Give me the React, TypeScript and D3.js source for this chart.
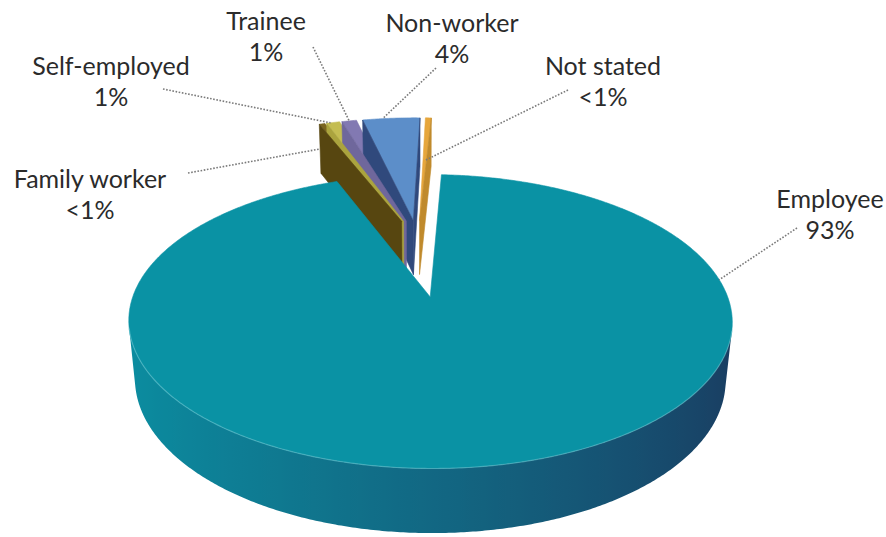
import React from 'react';
import * as d3 from 'd3';

// ---------- data ----------
const categories = ['Employee', 'Family worker', 'Self-employed', 'Trainee', 'Non-worker', 'Not stated'];
const values = [93.4, 0.4, 0.9, 1.0, 3.9, 0.4];
const valueLabels = ['93%', '<1%', '1%', '1%', '4%', '<1%'];

// ---------- styles ----------
const topColors = ['#0a92a4', '#7a6520', '#c4bd52', '#8279b2', '#5c8ec9', '#e6a63c'];
const sideLight = ['#0b8ea1', '#6a561a', '#a9a244', '#6f679c', '#4d7ab0', '#d29530'];
const sideDark = ['#1a3b60', '#4a3a0c', '#7d782e', '#4f4878', '#2f4a7c', '#a87420'];
const wallColors = ['#0b6f86', '#574610', '#aba43e', '#6f679c', '#30497c', '#c08a2c'];
const explode = [0.25, 0.34, 0.34, 0.34, 0.34, 0.34];
// explosion direction of the small slices: blend of a common direction and each bisector
const groupDirDeg = -1;
const spreadK = 0.5;

// label layout: centre x, baseline of first line, leader start
const labelX = [830, 90, 111, 266, 452, 603];
const labelY = [208, 188, 75, 30, 32, 75];
const leaderX = [797, 188, 163, 313, 436, 568];
const leaderY = [228, 173, 89, 47, 68, 90];
const anchorFrac = [0.238, 0, 0.3, 0.5, 0.35, 0.5];
const anchorR = [1, 1, 1, 1, 1, 0.55];
const anchorH = [0, -0.5, 0, 0, 0, 0];
const LINE_GAP = 30.5;

const W = 886, H = 537;
const deg = Math.PI / 180;
const START_DEG = 2.9;
const SIN_P = 0.475;
const COS_P = Math.sqrt(1 - SIN_P * SIN_P);
const CAM_D = 5.48;
const FOCAL = 1520;
const KX = 1.03;
const SX0 = 418.6;
const SY0 = 263.1;
const TH = 0.234;

type Pt = { x: number; y: number; w: number };
type Face = { pts: Pt[]; fill: string; stroke: string; depth: number; grad?: { id: string; x1: number; x2: number; stops: { o: number; c: string }[] } };

function proj(X: number, Y: number, Z: number): Pt {
  const yp = Y * COS_P - Z * SIN_P;
  const zp = Y * SIN_P + Z * COS_P;
  const w = CAM_D - zp;
  return { x: SX0 + (FOCAL * KX * X) / w, y: SY0 - (FOCAL * yp) / w, w };
}

function area(p: Pt[]) {
  let s = 0;
  for (let i = 0; i < p.length; i++) {
    const a = p[i], b = p[(i + 1) % p.length];
    s += a.x * b.y - b.x * a.y;
  }
  return s;
}

export default function App() {
  const arcs = d3
    .pie<number>()
    .sort(null)
    .value((d) => d)
    .startAngle(START_DEG * deg)
    .endAngle(START_DEG * deg + 2 * Math.PI)(values);

  const faces: Face[] = [];
  const rimLines: string[] = [];
  const anchors: { x: number; y: number }[] = [];
  const line = d3.line<Pt>().x((d) => d.x).y((d) => d.y);
  let gid = 0;

  arcs.forEach((a, i) => {
    const m = (a.startAngle + a.endAngle) / 2;
    const e = explode[i];
    let dir = m;
    if (i > 0) {
      let mm = m;
      if (mm > Math.PI) mm -= 2 * Math.PI;
      dir = groupDirDeg * deg + spreadK * (mm - groupDirDeg * deg);
    }
    const ox = e * Math.sin(dir), oz = -e * Math.cos(dir);
    const P = (t: number, r: number, y: number) => proj(ox + r * Math.sin(t), y, oz - r * Math.cos(t));
    const span = a.endAngle - a.startAngle;
    const n = Math.max(2, Math.ceil(span / (0.5 * deg)));
    const ts = d3.range(n + 1).map((k) => a.startAngle + (span * k) / n);

    const top = [P(0, 0, 0), ...ts.map((t) => P(t, 1, 0))];
    faces.push({ pts: top, fill: topColors[i], stroke: topColors[i], depth: d3.mean(top, (p) => p.w)! });

    // visible runs of the curved side
    const runs: number[][] = [];
    let cur: number[] = [];
    for (let k = 0; k < n; k++) {
      const ta = ts[k], tb = ts[k + 1];
      const q = [P(tb, 1, 0), P(ta, 1, 0), P(ta, 1, -TH), P(tb, 1, -TH)];
      if (area(q) > 0) {
        if (cur.length === 0) cur.push(ta);
        cur.push(tb);
      } else if (cur.length) {
        runs.push(cur);
        cur = [];
      }
    }
    if (cur.length) runs.push(cur);
    runs.forEach((run) => {
      const topPts = run.map((t) => P(t, 1, 0));
      const botPts = run.map((t) => P(t, 1, -TH));
      const poly = [...topPts, ...botPts.slice().reverse()];
      const xs = topPts.map((p) => p.x).concat(botPts.map((p) => p.x));
      const x1 = d3.min(xs)!, x2 = d3.max(xs)!;
      const stops = run.map((t, k) => {
        const L = Math.pow((1 - Math.sin(t)) / 2, 0.9);
        return { o: x2 > x1 ? (topPts[k].x - x1) / (x2 - x1) : 0, c: d3.interpolateRgb(sideDark[i], sideLight[i])(L) };
      }).sort((p, q) => p.o - q.o);
      const id = 'sg' + gid++;
      faces.push({ pts: poly, fill: `url(#${id})`, stroke: 'none', depth: d3.mean(poly, (p) => p.w)!, grad: { id, x1, x2, stops } });
      if (i === 0) rimLines.push(line(topPts) || '');
    });

    const sw = [P(a.startAngle, 1, 0), P(0, 0, 0), P(0, 0, -TH), P(a.startAngle, 1, -TH)];
    const ew = [P(0, 0, 0), P(a.endAngle, 1, 0), P(a.endAngle, 1, -TH), P(0, 0, -TH)];
    [sw, ew].forEach((q) => {
      if (area(q) > 0) faces.push({ pts: q, fill: wallColors[i], stroke: wallColors[i], depth: d3.mean(q, (p) => p.w)! });
    });

    const at = a.startAngle + span * anchorFrac[i];
    anchors.push(P(at, anchorR[i], anchorH[i] * TH));
  });

  faces.sort((a, b) => b.depth - a.depth);

  return (
    <svg width={W} height={H} style={{ position: 'absolute', left: 0, top: 0, background: '#fff' }}>
      <defs>
        {faces.filter((f) => f.grad).map((f) => (
          <linearGradient key={f.grad!.id} id={f.grad!.id} gradientUnits="userSpaceOnUse" x1={f.grad!.x1} x2={f.grad!.x2} y1={0} y2={0}>
            {f.grad!.stops.filter((_, k) => k % 4 === 0 || k === f.grad!.stops.length - 1).map((s, k) => (
              <stop key={k} offset={s.o} stopColor={s.c} />
            ))}
          </linearGradient>
        ))}
      </defs>
      <g>
        {faces.map((f, k) => (
          <path
            key={k}
            d={'M' + f.pts.map((p) => `${p.x.toFixed(2)},${p.y.toFixed(2)}`).join('L') + 'Z'}
            fill={f.fill}
            stroke={f.stroke}
            strokeWidth={f.stroke === 'none' ? 0 : 0.6}
            strokeLinejoin="round"
          />
        ))}
        {rimLines.map((d, k) => (
          <path key={'r' + k} d={d} fill="none" stroke="#63c4d0" strokeOpacity={0.55} strokeWidth={1.2} />
        ))}
      </g>
      <g>
        {categories.map((c, i) => (
          <line
            key={'l' + i}
            x1={leaderX[i]}
            y1={leaderY[i]}
            x2={anchors[i].x}
            y2={anchors[i].y}
            stroke="#7a7a7a"
            strokeWidth={1.6}
            strokeDasharray="1.6 1.6"
          />
        ))}
      </g>
      <g fontFamily="Lato, 'Open Sans', sans-serif" fontSize={25} fill="#2b2b2b" textAnchor="middle">
        {categories.map((c, i) => (
          <text key={'t' + i} x={labelX[i]} y={labelY[i]}>{c}</text>
        ))}
        {valueLabels.map((v, i) => (
          <text key={'v' + i} x={labelX[i]} y={labelY[i] + LINE_GAP}>{v}</text>
        ))}
      </g>
    </svg>
  );
}
